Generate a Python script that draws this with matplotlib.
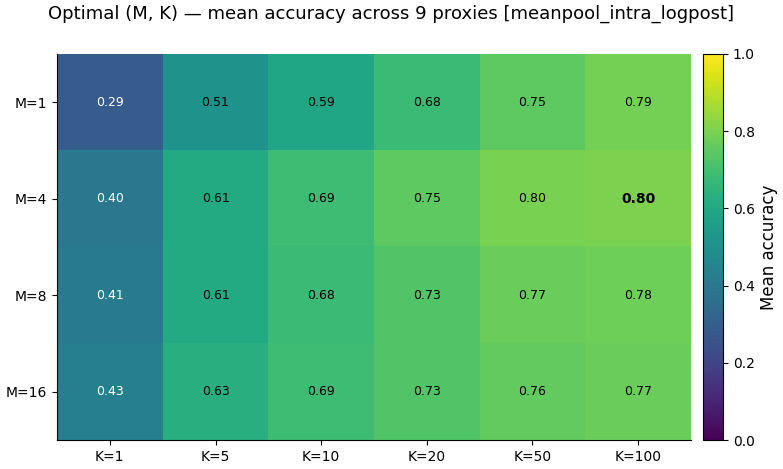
import numpy as np
import matplotlib
matplotlib.use("Agg")
import matplotlib.pyplot as plt

m_labels = ["M=1", "M=4", "M=8", "M=16"]
k_labels = ["K=1", "K=5", "K=10", "K=20", "K=50", "K=100"]

acc_m1 = [0.29, 0.51, 0.59, 0.68, 0.75, 0.79]
acc_m4 = [0.40, 0.61, 0.69, 0.75, 0.798, 0.803]
acc_m8 = [0.41, 0.61, 0.68, 0.73, 0.77, 0.78]
acc_m16 = [0.43, 0.63, 0.69, 0.73, 0.76, 0.77]

acc = np.array([acc_m1, acc_m4, acc_m8, acc_m16])

fig = plt.figure(figsize=(7.83, 4.69), dpi=100)
ax = fig.add_axes([0.0728, 0.0618, 0.8097, 0.8231])
cax = fig.add_axes([0.898, 0.0618, 0.0255, 0.8231])

im = ax.imshow(acc, cmap="viridis", vmin=0.0, vmax=1.0, aspect="auto")
ax.set_xticks(range(len(k_labels)))
ax.set_xticklabels(k_labels)
ax.set_yticks(range(len(m_labels)))
ax.set_yticklabels(m_labels)
ax.spines["top"].set_visible(False)
ax.spines["right"].set_visible(False)

best = np.unravel_index(np.argmax(acc), acc.shape)
for i in range(acc.shape[0]):
    for j in range(acc.shape[1]):
        v = acc[i, j]
        color = "white" if v < 0.5 else "black"
        weight = "bold" if (i, j) == best else "normal"
        fs = 10 if (i, j) == best else 9
        ax.text(j, i, "{:.2f}".format(v), ha="center", va="center",
                color=color, fontsize=fs, fontweight=weight)

cb = fig.colorbar(im, cax=cax)
cb.set_label("Mean accuracy", fontsize=12)

fig.suptitle("Optimal (M, K) \u2014 mean accuracy across 9 proxies [meanpool_intra_logpost]",
             fontsize=13, y=0.99)

fig.savefig("out.png", dpi=100)
